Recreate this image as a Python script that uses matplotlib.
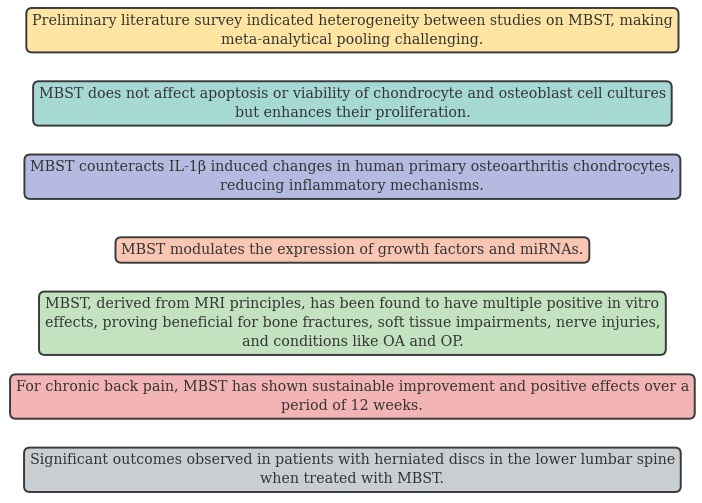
import matplotlib.pyplot as plt
import numpy as np

findings = [
    "Preliminary literature survey indicated heterogeneity between studies on MBST, making\nmeta-analytical pooling challenging.",
    "MBST does not affect apoptosis or viability of chondrocyte and osteoblast cell cultures\nbut enhances their proliferation.",
    "MBST counteracts IL-1\u03b2 induced changes in human primary osteoarthritis chondrocytes,\nreducing inflammatory mechanisms.",
    "MBST modulates the expression of growth factors and miRNAs.",
    "MBST, derived from MRI principles, has been found to have multiple positive in vitro\neffects, proving beneficial for bone fractures, soft tissue impairments, nerve injuries,\nand conditions like OA and OP.",
    "For chronic back pain, MBST has shown sustainable improvement and positive effects over a\nperiod of 12 weeks.",
    "Significant outcomes observed in patients with herniated discs in the lower lumbar spine\nwhen treated with MBST.",
]
box_colors = ["#FFE5A1", "#A6D9D4", "#B4BAE0", "#F9C6B4", "#C2E2C0", "#F2B4B4", "#C9CED3"]

fig = plt.figure(figsize=(7.02, 5.03), dpi=100)
ax = fig.add_axes([0, 0, 1, 1])
ax.set_xlim(0, 1)
ax.set_ylim(0, 1)
ax.axis("off")

ys = np.linspace(0.940, 0.066, len(findings))
for txt, col, y in zip(findings, box_colors, ys):
    ax.text(0.502, y, txt, ha="center", va="center", multialignment="center",
            fontsize=10.3, family="DejaVu Serif", color="#333333", linespacing=1.45,
            bbox=dict(boxstyle="round,pad=0.4", facecolor=col,
                      edgecolor="#3a3a3a", linewidth=1.4))

fig.savefig("out.png", dpi=100)
